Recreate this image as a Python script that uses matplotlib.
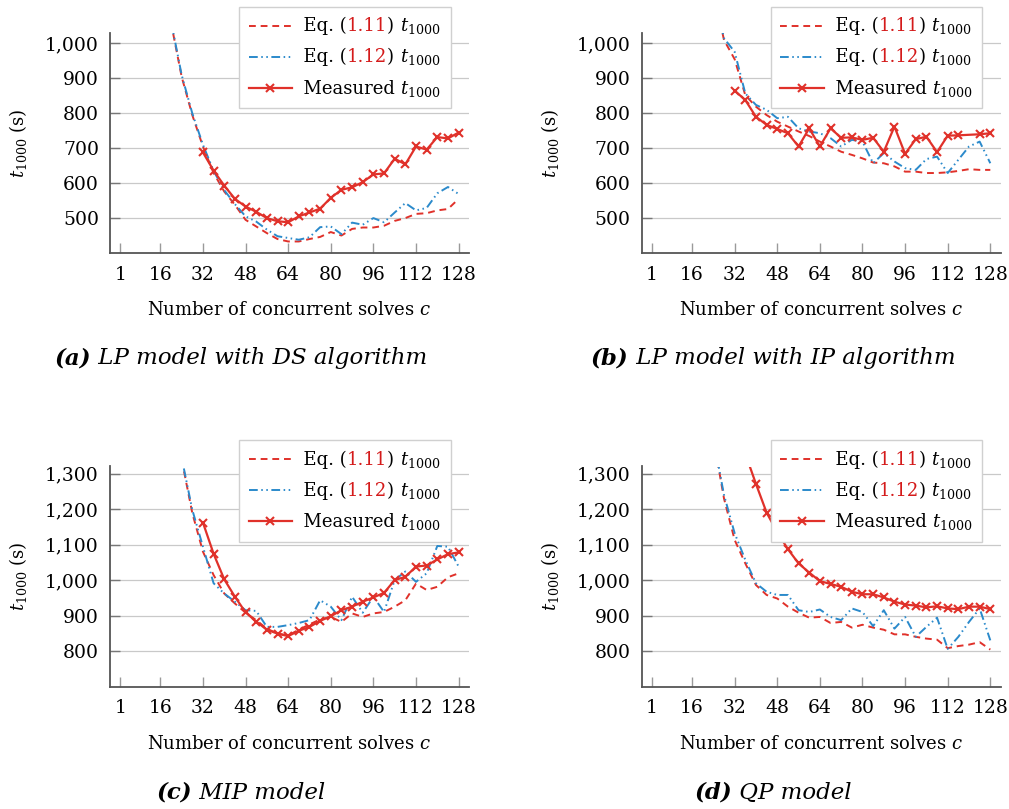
import matplotlib
matplotlib.use("Agg")
import matplotlib.pyplot as plt
from matplotlib.lines import Line2D
from matplotlib.offsetbox import AnchoredOffsetbox, HPacker, VPacker, TextArea, DrawingArea
from matplotlib.ticker import FuncFormatter

plt.rcParams['font.family'] = ['DejaVu Serif']
plt.rcParams['mathtext.fontset'] = 'dejavuserif'

# x positions (number of concurrent solves)
c_eq_20 = [20, 24, 28, 32, 36, 40, 44, 48, 52, 56, 60, 64, 68, 72, 76, 80, 84, 88, 92, 96, 100, 104, 108, 112, 116, 120, 124, 128]
c_eq_24 = [24, 28, 32, 36, 40, 44, 48, 52, 56, 60, 64, 68, 72, 76, 80, 84, 88, 92, 96, 100, 104, 108, 112, 116, 120, 124, 128]
c_meas = [32, 36, 40, 44, 48, 52, 56, 60, 64, 68, 72, 76, 80, 84, 88, 92, 96, 100, 104, 108, 112, 116, 120, 124, 128]
c_meas_b = [32, 36, 40, 44, 48, 52, 56, 60, 64, 68, 72, 76, 80, 84, 88, 92, 96, 100, 104, 108, 112, 116, 124, 128]
c_meas_d = [36, 40, 44, 48, 52, 56, 60, 64, 68, 72, 76, 80, 84, 88, 92, 96, 100, 104, 108, 112, 116, 120, 124, 128]

# (a) LP / DS
eq11_a = [1060, 905, 795, 705, 629, 576, 538, 495, 476, 457, 440, 433, 433, 440, 446, 460, 450, 469, 473, 473, 478, 492, 500, 512, 514, 522, 526, 555]
eq12_a = [1065, 910, 800, 710, 635, 580, 540, 505, 490, 467, 448, 443, 438, 445, 474, 476, 454, 487, 481, 500, 488, 516, 543, 522, 529, 571, 589, 569]
meas_a = [688, 636, 593, 555, 533, 518, 500, 491, 488, 505, 516, 527, 558, 581, 588, 603, 625, 628, 670, 654, 705, 696, 732, 728, 745]

# (b) LP / IP
eq11_b = [1150, 1010, 955, 852, 819, 795, 776, 762, 748, 735, 719, 705, 690, 681, 671, 659, 657, 648, 633, 633, 629, 629, 631, 635, 640, 638, 638]
eq12_b = [1150, 1015, 976, 857, 824, 810, 786, 790, 757, 748, 743, 729, 705, 724, 719, 657, 686, 662, 643, 638, 669, 676, 629, 667, 705, 719, 657]
meas_b = [865, 838, 790, 767, 755, 743, 705, 757, 705, 757, 730, 731, 724, 730, 690, 762, 684, 726, 733, 689, 736, 737, 740, 743]

# (c) MIP
eq11_c = [1500, 1340, 1189, 1080, 1014, 962, 934, 908, 887, 863, 849, 844, 860, 875, 889, 896, 882, 906, 896, 906, 910, 925, 943, 990, 972, 981, 1008, 1019]
eq12_c = [1500, 1345, 1198, 1094, 991, 962, 939, 915, 913, 868, 868, 873, 879, 887, 943, 925, 887, 953, 908, 953, 910, 1000, 1024, 995, 1019, 1096, 1094, 1038]
meas_c = [1162, 1074, 1002, 953, 909, 883, 860, 849, 842, 857, 868, 885, 898, 915, 925, 939, 951, 964, 1000, 1009, 1038, 1041, 1058, 1073, 1078]

# (d) QP
eq11_d = [1400, 1230, 1113, 1047, 986, 958, 948, 925, 908, 894, 896, 879, 882, 866, 874, 866, 860, 847, 847, 840, 835, 832, 808, 814, 818, 825, 804]
eq12_d = [1400, 1240, 1132, 1057, 991, 967, 958, 958, 915, 910, 917, 896, 887, 920, 910, 870, 915, 863, 896, 840, 868, 894, 806, 840, 882, 920, 830]
meas_d = [1356, 1271, 1190, 1135, 1087, 1047, 1021, 997, 989, 981, 967, 960, 960, 951, 939, 931, 928, 923, 926, 920, 918, 925, 925, 918]

x_ticks = [1, 16, 32, 48, 64, 80, 96, 112, 128]
captions = [("(a)", " LP model with DS algorithm"), ("(b)", " LP model with IP algorithm"),
            ("(c)", " MIP model"), ("(d)", " QP model")]

RED = '#e0312a'
BLUE = '#2b8acb'
NUMRED = '#d41a1a'
DASH = (0, (3.5, 2.5))
DASHDOT = (0, (4.5, 1.8, 0.8, 1.8, 0.8, 1.8))
FS = 13
MS = 5.5

fig = plt.figure(figsize=(10.09, 8.09), dpi=100)

W, H = 1009, 809
rects = [(110, 33), (641.7, 33), (110, 466.5), (641.7, 466.5)]
panels = [
    (c_eq_20, eq11_a, eq12_a, c_meas, meas_a, (400, 1030), [500, 600, 700, 800, 900, 1000]),
    (c_eq_24, eq11_b, eq12_b, c_meas_b, meas_b, (400, 1030), [500, 600, 700, 800, 900, 1000]),
    (c_eq_20, eq11_c, eq12_c, c_meas, meas_c, (700, 1320), [800, 900, 1000, 1100, 1200, 1300]),
    (c_eq_24, eq11_d, eq12_d, c_meas_d, meas_d, (700, 1320), [800, 900, 1000, 1100, 1200, 1300]),
]


def make_row(handle_kw, num):
    da = DrawingArea(31, 10, 0, 0)
    da.add_artist(Line2D([0, 15.5, 31], [4, 4, 4], **handle_kw))
    parts = [da]
    if num is None:
        parts.append(TextArea("  Measured ", textprops=dict(size=FS)))
    else:
        parts.append(TextArea("  Eq. (", textprops=dict(size=FS)))
        parts.append(TextArea(num, textprops=dict(size=FS, color=NUMRED)))
        parts.append(TextArea(") ", textprops=dict(size=FS)))
    parts.append(TextArea(r"$t_{1000}$", textprops=dict(size=FS)))
    return HPacker(children=parts, sep=0, pad=0, align='baseline')


for i, (ce, e11, e12, cm, m, ylim, yt) in enumerate(panels):
    x0, y0 = rects[i]
    ax = fig.add_axes([x0 / W, 1 - (y0 + 220) / H, 359 / W, 220 / H])
    ax.plot(ce, e11, color=RED, lw=1.4, linestyle=DASH, zorder=3)
    ax.plot(ce, e12, color=BLUE, lw=1.4, linestyle=DASHDOT, zorder=3)
    ax.plot(cm, m, color=RED, lw=1.6, marker='x', markersize=MS, mew=1.5, zorder=4)

    ax.set_xlim(-2.9, 131.9)
    ax.set_ylim(*ylim)
    ax.set_xticks(x_ticks)
    ax.set_yticks(yt)
    ax.yaxis.set_major_formatter(FuncFormatter(lambda v, p: f"{int(v):,}"))
    ax.tick_params(axis='x', direction='in', length=7, width=1, color='#9a9a9a', pad=9, labelsize=13.5)
    ax.tick_params(axis='y', direction='in', length=7, width=1, color='#777777', pad=8, labelsize=13.5)
    ax.grid(axis='y', color='#c9c9c9', lw=0.9)
    ax.set_axisbelow(True)
    for s in ['top', 'right']:
        ax.spines[s].set_visible(False)
    for s in ['left', 'bottom']:
        ax.spines[s].set_color('#555555')
        ax.spines[s].set_linewidth(1.3)

    ax.text(0.5, -0.26, "Number of concurrent solves $c$", transform=ax.transAxes,
            ha='center', va='center', size=FS)
    ax.text(-0.256, 0.5, r"$t_{1000}$ (s)", transform=ax.transAxes, rotation=90,
            ha='center', va='center', size=FS)

    rows = [
        make_row(dict(color=RED, lw=1.4, linestyle=DASH), "1.11"),
        make_row(dict(color=BLUE, lw=1.4, linestyle=DASHDOT), "1.12"),
        make_row(dict(color=RED, lw=1.6, marker='x', markersize=MS, mew=1.5, markevery=[1]), None),
    ]
    box = VPacker(children=rows, sep=8, pad=0, align='left')
    leg = AnchoredOffsetbox(loc='upper right', child=box, pad=0.7, borderpad=0,
                            frameon=True, bbox_to_anchor=(0.949, 1.12),
                            bbox_transform=ax.transAxes)
    leg.patch.set_edgecolor('#d0d0d0')
    leg.patch.set_linewidth(1.0)
    leg.patch.set_boxstyle('square', pad=0)
    leg.set_zorder(10)
    ax.add_artist(leg)

cap_pos = [(241 / W, 1 - 358 / H), (773 / W, 1 - 358 / H), (241 / W, 1 - 793 / H), (773 / W, 1 - 793 / H)]
for (lab, txt), (cx, cy) in zip(captions, cap_pos):
    hp = HPacker(children=[TextArea(lab, textprops=dict(size=16.5, style='italic', weight='bold')),
                           TextArea(txt, textprops=dict(size=16.5, style='italic'))],
                 sep=0, pad=0, align='baseline')
    cap = AnchoredOffsetbox(loc='center', child=hp, pad=0, borderpad=0, frameon=False,
                            bbox_to_anchor=(cx, cy), bbox_transform=fig.transFigure)
    fig.add_artist(cap)

fig.savefig("out.png", dpi=100)
